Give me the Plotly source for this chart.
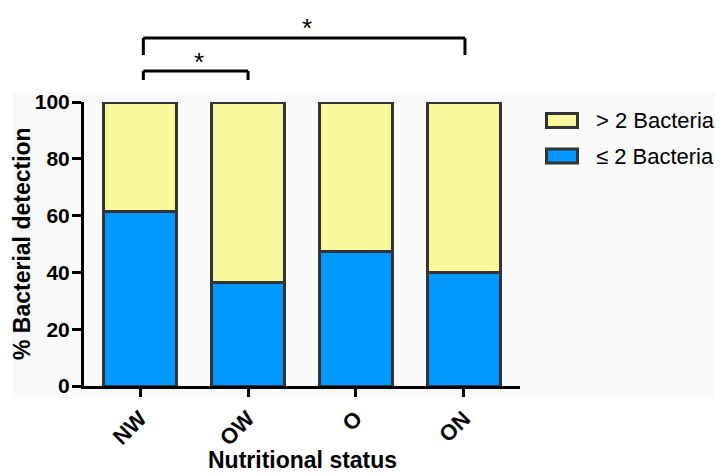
import plotly.graph_objects as go

categories = ["NW", "OW", "O", "ON"]
low_bacteria = [61.5, 36.4, 47.2, 39.8]      # ≤ 2 Bacteria (%)
high_bacteria = [38.5, 63.6, 52.8, 60.2]     # > 2 Bacteria (%)
y_ticks = [0, 20, 40, 60, 80, 100]
legend_labels = ["> 2 Bacteria", "≤ 2 Bacteria"]
colors = {"high": "#f9f99b", "low": "#0098ff"}
border = "#333333"
brackets = [(0.03, 1.0, "*"), (0.03, 3.01, "*")]

font = "Liberation Sans, Arial, sans-serif"

# page has an 8px body margin; figure coordinates = page coordinates - 8
OFF = 8
PL, PT, PB = 84 - OFF, 102 - OFF, 386 - OFF   # plot area edges in figure px
PW, PH = 436, 284


def px(xpage):
    return (xpage - OFF - PL) / PW


def py(ypage):
    return (PB - (ypage - OFF)) / PH


fig = go.Figure()
fig.add_trace(go.Bar(x=categories, y=low_bacteria, name=legend_labels[1],
                     marker=dict(color=colors["low"], line=dict(color=border, width=3)),
                     width=0.67))
fig.add_trace(go.Bar(x=categories, y=high_bacteria, name=legend_labels[0],
                     marker=dict(color=colors["high"], line=dict(color=border, width=3)),
                     width=0.67))

shapes = []
# faint background panel
shapes.append(dict(type="rect", xref="paper", yref="paper", x0=px(12), x1=1.5,
                   y0=py(399), y1=py(92), fillcolor="#f9f9f9", line=dict(width=0), layer="below"))

# significance brackets (page pixel y: top line, leg end, asterisk centre)
bracket_levels = [(71, 80, 62), (38, 55, 28)]
annotations = []
for (x0, x1, txt), (ytop, yleg, ystar) in zip(brackets, bracket_levels):
    yt, yl = py(ytop), py(yleg)
    for (a, b, c, d) in [(x0, yl, x0, yt), (x0, yt, x1, yt), (x1, yt, x1, yl)]:
        shapes.append(dict(type="line", xref="x", yref="paper", x0=a, y0=b, x1=c, y1=d,
                           line=dict(color="black", width=3)))
    annotations.append(dict(x=(x0 + x1) / 2 + 0.03, y=py(ystar), xref="x", yref="paper", text=txt,
                            showarrow=False, font=dict(family=font, size=26, color="black"),
                            xanchor="center", yanchor="middle"))

# manual legend
legend_items = [(legend_labels[0], colors["high"], 120.5), (legend_labels[1], colors["low"], 156)]
for label, col, ypx in legend_items:
    yc = py(ypx)
    shapes.append(dict(type="rect", xref="paper", yref="paper",
                       x0=px(546.5), x1=px(577.5),
                       y0=yc - 7 / PH, y1=yc + 7 / PH,
                       fillcolor=col, line=dict(color=border, width=3)))
    annotations.append(dict(x=px(594), y=yc, xref="paper", yref="paper", text=label,
                            showarrow=False, xanchor="left", yanchor="middle",
                            font=dict(family=font, size=22, color="black")))

# axis titles
annotations.append(dict(x=px(302), y=py(460), xref="paper", yref="paper",
                        text="<b>Nutritional status</b>", showarrow=False,
                        xanchor="center", yanchor="middle",
                        font=dict(family=font, size=23, color="black")))
annotations.append(dict(x=px(22), y=0.5, xref="paper", yref="paper",
                        text="<b>% Bacterial detection</b>", showarrow=False, textangle=-90,
                        xanchor="center", yanchor="middle",
                        font=dict(family=font, size=23, color="black")))

W, H = 723 - OFF, 474 - OFF
fig.update_layout(
    barmode="stack",
    width=W, height=H,
    margin=dict(l=PL, r=W - PL - PW, t=PT, b=H - PB),
    paper_bgcolor="white",
    plot_bgcolor="rgba(0,0,0,0)",
    showlegend=False,
    shapes=shapes,
    annotations=annotations,
    font=dict(family=font, color="black"),
)
fig.update_xaxes(
    range=[-0.52, 3.52], showline=True, linecolor="black", linewidth=3,
    ticks="outside", ticklen=8, tickwidth=3, tickcolor="black",
    tickangle=-45, showgrid=False, zeroline=False,
    tickfont=dict(family=font, size=22, color="black", weight="bold"),
)
fig.update_yaxes(
    range=[0, 100], tickvals=y_ticks, showline=True, linecolor="black", linewidth=3,
    ticks="outside", ticklen=9, tickwidth=3, tickcolor="black",
    showgrid=False, zeroline=False, ticklabelstandoff=-2,
    tickfont=dict(family=font, size=21, color="black", weight="bold"),
)

fig.write_html("out.html")
